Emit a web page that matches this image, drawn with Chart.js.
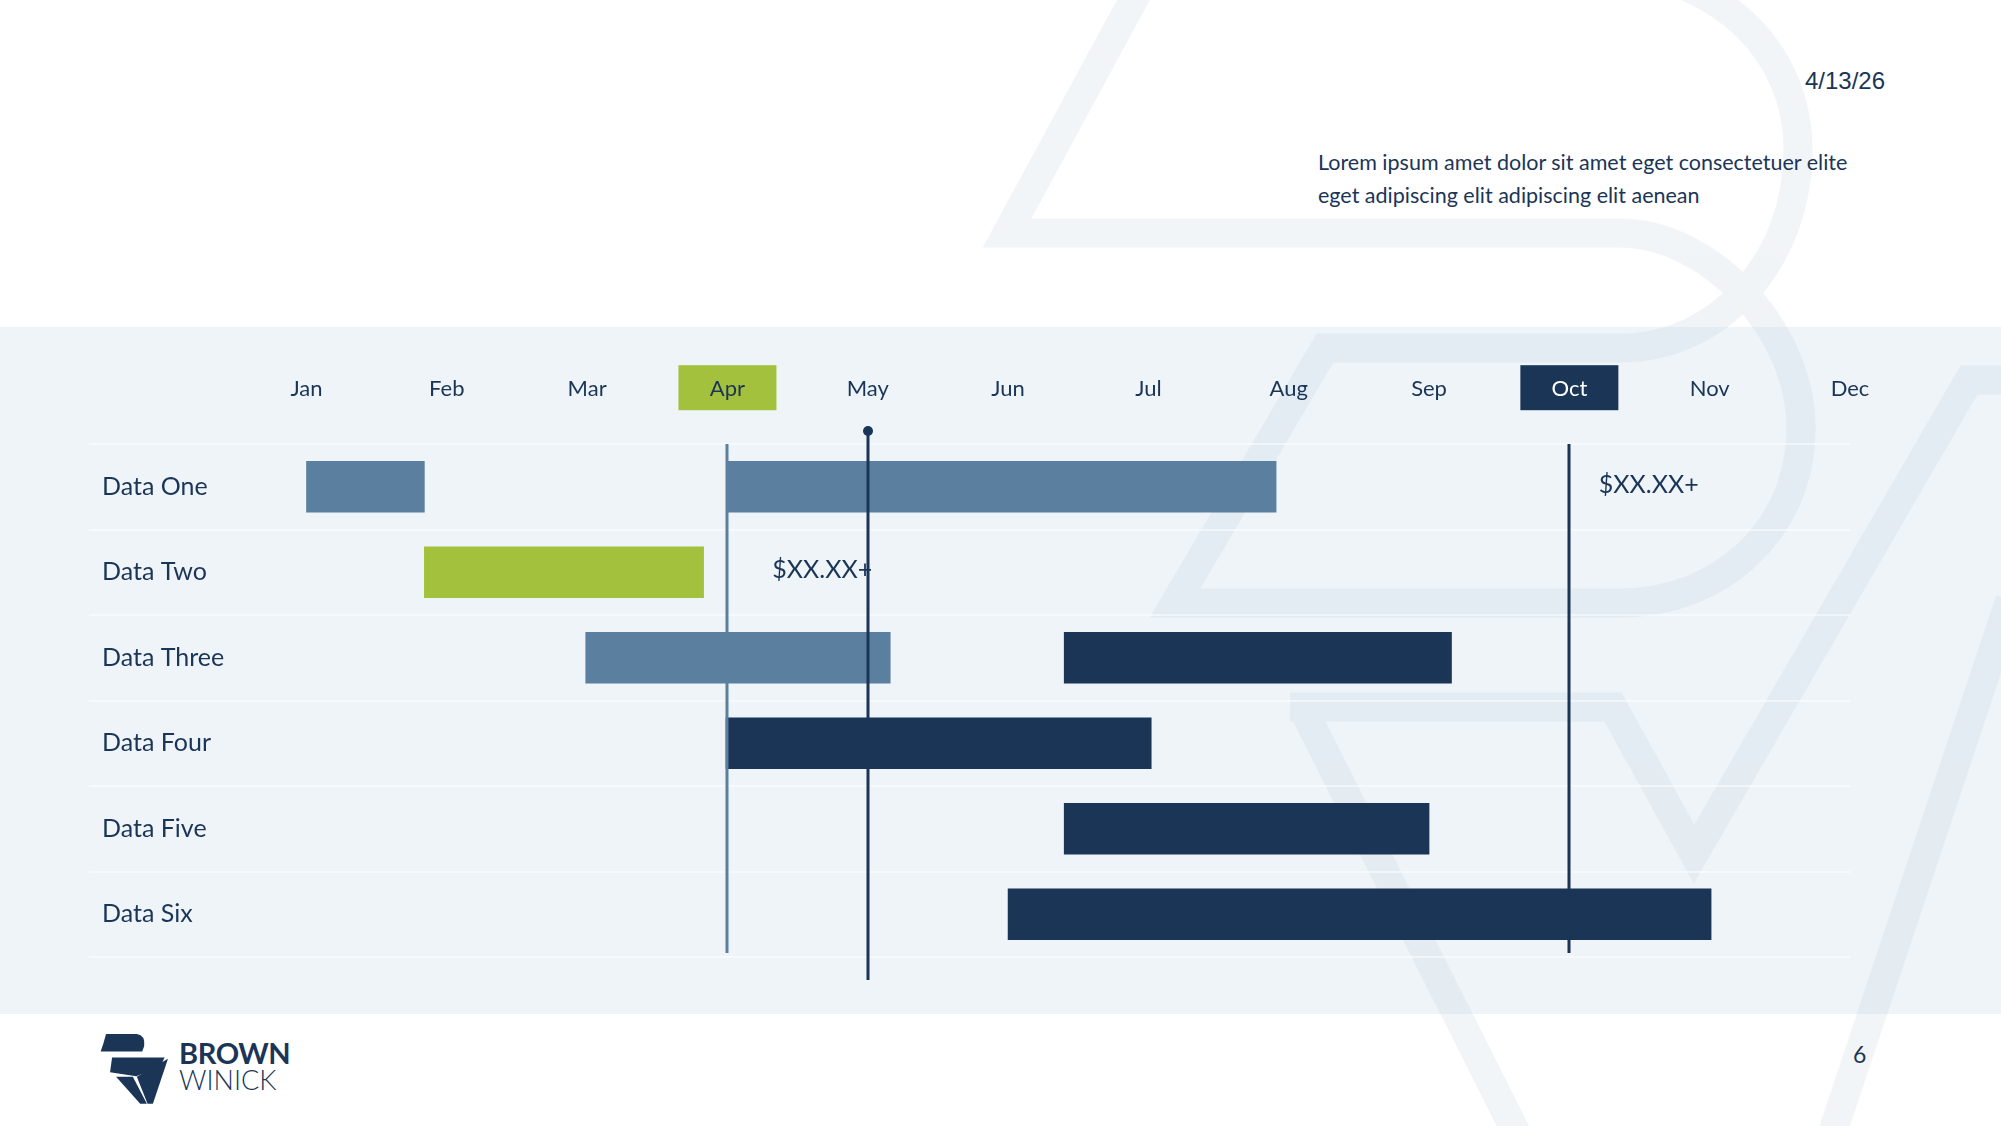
<!DOCTYPE html>
<html>
<head>
<meta charset="utf-8">
<script src="https://cdn.jsdelivr.net/npm/chart.js@4.4.1/dist/chart.umd.min.js"></script>
<style>
  html, body { margin: 0; padding: 0; }
  body {
    width: 2001px; height: 1126px; position: relative; overflow: hidden;
    background: #fff; color: #1b3557; font-family: Lato, "Noto Sans", sans-serif;
  }
  #band { position: absolute; left: 0; top: 327px; width: 2001px; height: 687px; background: #eef4f8; }
  #wm { position: absolute; left: 0; top: 0; }
  #wrap { position: absolute; left: 0; top: 300px; width: 2001px; height: 714px; }
  .date { position: absolute; right: 116px; top: 67px; font-family: "Liberation Sans", Arial, sans-serif; font-size: 24px; }
  .lorem { position: absolute; left: 1318px; top: 146px; font-size: 21.5px; line-height: 33px; }
  .page { position: absolute; left: 1853px; top: 1040px; font-size: 23px; }
  .logo { position: absolute; left: 96px; top: 1030px; }
  .brand { position: absolute; left: 179px; top: 1038px; line-height: 1; }
  .brand b { display: block; font-size: 29px; font-weight: 700; letter-spacing: -0.4px; }
  .brand span { display: block; font-size: 27px; font-weight: 300; margin-top: -1px; }
</style>
</head>
<body>
<div id="band"></div>

<svg id="wm" width="2001" height="1126" viewBox="0 0 2001 1126">
  <g fill="none" stroke="#c4d4e0" stroke-width="29" opacity="0.24" stroke-linejoin="miter">
    <path d="M1141,-14 L1007,233 L1620,233 C1710,233 1801,330 1801,428 C1801,530 1720,603 1620,603 L1175,603 L1325,348 L1620,348 C1720,348 1798,260 1798,150 C1798,50 1720,-20 1620,-30"/>
    <path d="M1302,707 L1520,1140 M1290,707 L1613,707 L1694,854 L1969,380 L2010,380 M2010,600 L1830,1140"/>
  </g>
</svg>

<div class="date">4/13/26</div>
<div class="lorem">Lorem ipsum amet dolor sit amet eget consectetuer elite<br>eget adipiscing elit adipiscing elit aenean</div>
<div class="page">6</div>

<svg class="logo" width="77" height="77" viewBox="50 60 230 230">
  <g fill="#1b3557">
    <path d="M80,72 L172,72 Q198,76 194,108 L188,124 L64,124 L72,100 Z"/>
    <path d="M98,142 L255,142 L240,172 L170,198 L92,186 Z"/>
    <path d="M110,200 L160,200 L202,280 L182,280 Z"/>
    <path d="M172,200 L265,146 L220,280 L204,280 Z"/>
  </g>
</svg>
<div class="brand"><b>BROWN</b><span>WINICK</span></div>

<div id="wrap"><canvas id="gantt" width="2001" height="714"></canvas></div>

<script>
const months = ["Jan", "Feb", "Mar", "Apr", "May", "Jun", "Jul", "Aug", "Sep", "Oct", "Nov", "Dec"];
const rows = ["Data One", "Data Two", "Data Three", "Data Four", "Data Five", "Data Six"];

// month positions: 0 = Jan ... 11 = Dec
const firstSpan = [[0, 0.84], [0.84, 2.83], [1.99, 4.16], [2.99, 6.02], [5.4, 8.0], [5.0, 10.01]];
const firstColor = ["steel", "green", "steel", "navy", "navy", "navy"];
const secondSpan = [[3.0, 6.91], null, [5.4, 8.16], null, null, null];
const secondColor = ["steel", null, "navy", null, null, null];

const markerMonths = [3, 4, 9];
const markerColor = ["steel", "navy", "navy"];

const highlightMonths = [3, 9];
const highlightFill = ["green", "navy"];

const noteRows = [1, 0];
const noteAt = [3.32, 9.21];
const noteText = ["$XX.XX+", "$XX.XX+"];

const palette = { steel: "#5b7f9e", green: "#a4c13d", navy: "#1b3557" };
const navy = palette.navy;
const monthFontSize = 22;

const decor = {
  id: "decor",
  beforeDraw(chart) {
    const { ctx } = chart;
    const x = chart.scales.x;
    const cy = x.top + (monthFontSize * 1.2) / 2;
    ctx.save();
    highlightMonths.forEach((m, i) => {
      const px = x.getPixelForValue(m);
      ctx.fillStyle = palette[highlightFill[i]];
      ctx.fillRect(px - 49, cy - 22, 98, 45);
    });
    ctx.restore();
  },
  afterDatasetsDraw(chart) {
    const { ctx, chartArea } = chart;
    const x = chart.scales.x;
    const y = chart.scales.y;
    ctx.save();
    ctx.font = "25px Lato, 'Noto Sans', sans-serif";
    ctx.fillStyle = navy;
    ctx.textBaseline = "middle";
    noteRows.forEach((r, i) => {
      ctx.fillText(noteText[i], x.getPixelForValue(noteAt[i]), y.getPixelForValue(r) - 2);
    });
    markerMonths.forEach((m, i) => {
      const px = Math.round(x.getPixelForValue(m));
      const tall = i === 1;
      const top = tall ? chartArea.top - 13 : chartArea.top;
      const bottom = tall ? chartArea.bottom + 23 : chartArea.bottom - 4;
      ctx.strokeStyle = palette[markerColor[i]];
      ctx.lineWidth = 3;
      ctx.beginPath();
      ctx.moveTo(px, top);
      ctx.lineTo(px, bottom);
      ctx.stroke();
      if (tall) {
        ctx.fillStyle = palette[markerColor[i]];
        ctx.beginPath();
        ctx.arc(px, top, 5, 0, Math.PI * 2);
        ctx.fill();
      }
    });
    ctx.restore();
  },
};

new Chart(document.getElementById("gantt"), {
  type: "bar",
  data: {
    labels: rows,
    datasets: [
      {
        label: "phase 1",
        data: firstSpan,
        backgroundColor: firstColor.map((c) => palette[c]),
        grouped: false,
        barThickness: 51,
        borderWidth: 0,
      },
      {
        label: "phase 2",
        data: secondSpan,
        backgroundColor: secondColor.map((c) => (c ? palette[c] : "transparent")),
        grouped: false,
        barThickness: 51,
        borderWidth: 0,
      },
    ],
  },
  options: {
    indexAxis: "y",
    responsive: false,
    devicePixelRatio: 1,
    animation: false,
    layout: { padding: { left: 89, right: 151, top: 74, bottom: 57 } },
    plugins: {
      legend: { display: false },
      tooltip: { enabled: false },
    },
    scales: {
      x: {
        position: "top",
        min: -1.55,
        max: 11,
        afterBuildTicks: (s) => {
          s.ticks = months.map((m, i) => ({ value: i }));
        },
        afterFit: (s) => {
          s.height = 70;
        },
        grid: { display: false, drawTicks: false },
        border: { display: false },
        ticks: {
          autoSkip: false,
          maxRotation: 0,
          padding: 42,
          callback: (v) => months[v],
          color: (c) => (c.index === 9 ? "#ffffff" : navy),
          font: { family: "Lato", size: monthFontSize },
        },
      },
      y: {
        afterFit: (s) => {
          s.width = 0;
        },
        grid: { offset: true, color: "rgba(255,255,255,0.55)", lineWidth: 2, drawTicks: false },
        border: { display: false },
        ticks: {
          mirror: true,
          padding: 13,
          color: navy,
          font: { family: "Lato", size: 25 },
        },
      },
    },
  },
  plugins: [decor],
});
</script>
</body>
</html>
